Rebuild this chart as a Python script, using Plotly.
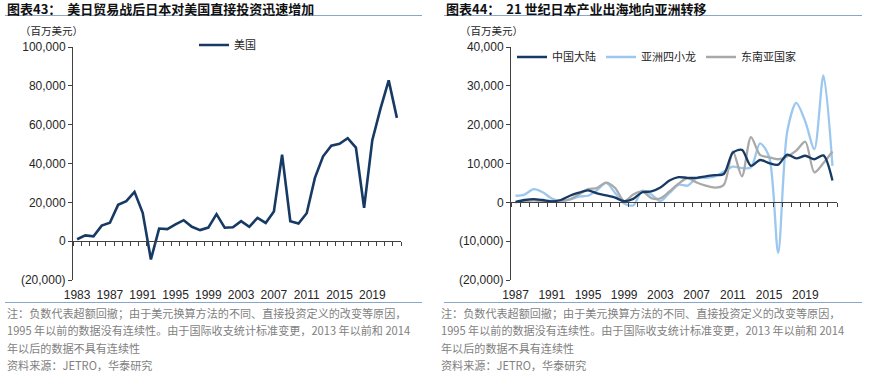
import plotly.graph_objects as go

W, H = 870, 377

# ---------------- data ----------------
years_us = list(range(1983, 2023))
us_fdi = [1000, 3000, 2500, 8000, 9500, 18700, 20600, 25400, 14600, -9400,
          6500, 6200, 8600, 10800, 7400, 5700, 7000, 13900, 6900, 7200,
          10300, 7400, 12000, 9400, 15300, 44600, 10300, 9100, 14400, 32600,
          43700, 49200, 50100, 53000, 48200, 17200, 52000, 68300, 82800, 63500]

years_asia = list(range(1987, 2023))
china = [100, 600, 850, 600, 250, 600, 1700, 2500, 3100, 2300,
         1800, 1200, 300, 900, 2600, 2800, 3800, 5600, 6500, 6300,
         6300, 6700, 7000, 7300, 12800, 13500, 9400, 10900, 10100, 9700,
         12300, 11300, 12000, 11100, 12100, 5600]
dragons = [1700, 2000, 3400, 2600, 1000, 400, 700, 1500, 1700, 3100,
           5000, 2400, -300, -800, 3000, 2000, 300, 2400, 4500, 4300,
           6200, 6300, 6700, 7900, 9200, 8800, 9000, 15200, 11800, -13000,
           18200, 25600, 20800, 13700, 32700, 9400]
asean = [0, 300, 500, 300, 400, 300, 800, 2000, 3400, 3700,
         5100, 3700, 300, 2000, 2800, 1100, 1000, 2800, 4800, 6200,
         5100, 4300, 3800, 4500, 13100, 6700, 16800, 12200, 11600, 11100,
         11800, 13300, 15600, 7700, 10100, 13100]

left_yticks = [-20000, 0, 20000, 40000, 60000, 80000, 100000]
right_yticks = [-20000, -10000, 0, 10000, 20000, 30000, 40000]
left_xticks = list(range(1983, 2020, 4))
right_xticks = list(range(1987, 2020, 4))

names = ["美国", "中国大陆", "亚洲四小龙", "东南亚国家"]
colors = ["#173a64", "#173a64", "#9cc8ef", "#a9a9a9"]

title_left = "<b>图表43：  美日贸易战后日本对美国直接投资迅速增加</b>"
title_right = "<b>图表44：  21 世纪日本产业出海地向亚洲转移</b>"
unit_label = "（百万美元）"
notes = ["注：负数代表超额回撤；由于美元换算方法的不同、直接投资定义的改变等原因，",
         "1995 年以前的数据没有连续性。由于国际收支统计标准变更，2013 年以前和 2014",
         "年以后的数据不具有连续性",
         "资料来源：JETRO，华泰研究"]


def fmt(v):
    s = f"{abs(v):,}"
    return f"({s})" if v < 0 else s


def px_x(p):
    return p / W


def px_y(p):
    return 1 - p / H


NUM_FONT = "Liberation Sans, Arial, sans-serif"
CJK_FONT = "Noto Sans CJK SC, sans-serif"
AX_COLOR = "#404040"
TXT_COLOR = "#262626"

fig = go.Figure()

# draw order: dragons, asean, china on top; legend order via legendrank
fig.add_trace(go.Scatter(x=years_us, y=us_fdi, name=names[0], mode="lines",
                         line=dict(color=colors[0], width=2.6),
                         xaxis="x", yaxis="y", legend="legend"))
for nm, vals, col, rk in [(names[2], dragons, colors[2], 2),
                          (names[3], asean, colors[3], 3),
                          (names[1], china, colors[1], 1)]:
    fig.add_trace(go.Scatter(x=years_asia, y=vals, name=nm, mode="lines", legendrank=rk,
                             line=dict(color=col, width=2.3, shape="spline", smoothing=0.8),
                             xaxis="x2", yaxis="y2", legend="legend2"))

ydom = [px_y(280), px_y(47)]
xdom_l = [px_x(73), px_x(401)]
xdom_r = [px_x(511), px_x(837)]

common_x = dict(showgrid=False, zeroline=False, showline=False, ticks="", automargin=False,
                ticklabelstandoff=6,
                tickfont=dict(family=NUM_FONT, size=12, color=TXT_COLOR))
common_y = dict(showgrid=False, zeroline=False, showline=True, linecolor=AX_COLOR,
                linewidth=1, ticks="outside", ticklen=4, tickcolor=AX_COLOR, automargin=False,
                tickfont=dict(family=NUM_FONT, size=12, color=TXT_COLOR))

fig.update_layout(
    width=W, height=H, margin=dict(l=0, r=0, t=0, b=0, autoexpand=False),
    paper_bgcolor="white", plot_bgcolor="white",
    xaxis=dict(domain=xdom_l, anchor="y", range=[1982.5, 2022.5],
               tickvals=left_xticks, ticktext=[str(v) for v in left_xticks], **common_x),
    yaxis=dict(domain=ydom, anchor="x", range=[-20000, 100000],
               tickvals=left_yticks, ticktext=[fmt(v) for v in left_yticks], **common_y),
    xaxis2=dict(domain=xdom_r, anchor="y2", range=[1986.5, 2022.5],
                tickvals=right_xticks, ticktext=[str(v) for v in right_xticks], **common_x),
    yaxis2=dict(domain=ydom, anchor="x2", range=[-20000, 40000],
                tickvals=right_yticks, ticktext=[fmt(v) for v in right_yticks], **common_y),
    # zero-line category axes with year tick marks
    xaxis3=dict(overlaying="x", matches="x", anchor="free", automargin=False,
                position=px_y(280) + (ydom[1] - ydom[0]) * (20000 / 120000),
                showgrid=False, zeroline=False, showline=True, linecolor=AX_COLOR,
                linewidth=1, ticks="outside", ticklen=4, tickcolor=AX_COLOR,
                tickvals=[y + 0.5 for y in range(1982, 2023)], showticklabels=False),
    xaxis4=dict(overlaying="x2", matches="x2", anchor="free", automargin=False,
                position=px_y(280) + (ydom[1] - ydom[0]) * (20000 / 60000),
                showgrid=False, zeroline=False, showline=True, linecolor=AX_COLOR,
                linewidth=1, ticks="outside", ticklen=4, tickcolor=AX_COLOR,
                tickvals=[y + 0.5 for y in range(1986, 2023)], showticklabels=False),
    legend=dict(x=px_x(194), y=px_y(45), xanchor="left", yanchor="middle",
                orientation="h", bgcolor="rgba(0,0,0,0)",
                font=dict(family=CJK_FONT, size=11, color=TXT_COLOR)),
    legend2=dict(x=px_x(512), y=px_y(57), xanchor="left", yanchor="middle",
                 orientation="h", bgcolor="rgba(0,0,0,0)", itemwidth=30,
                 font=dict(family=CJK_FONT, size=11, color=TXT_COLOR)),
    showlegend=True,
)

# invisible helper traces so overlay axes render
fig.add_trace(go.Scatter(x=[years_us[0]], y=[us_fdi[0]], xaxis="x3", yaxis="y",
                         mode="lines", showlegend=False, hoverinfo="skip", opacity=0))
fig.add_trace(go.Scatter(x=[years_asia[0]], y=[china[0]], xaxis="x4", yaxis="y2",
                         mode="lines", showlegend=False, hoverinfo="skip", opacity=0))

ann = []
ann.append(dict(text=title_left, x=px_x(5), y=px_y(8), xanchor="left", yanchor="middle",
                font=dict(family=CJK_FONT, size=13, color="#111111")))
ann.append(dict(text=title_right, x=px_x(444), y=px_y(8), xanchor="left", yanchor="middle",
                font=dict(family=CJK_FONT, size=13, color="#111111")))
for x0 in (18, 458):
    ann.append(dict(text=unit_label, x=px_x(x0), y=px_y(30), xanchor="left", yanchor="middle",
                    font=dict(family=CJK_FONT, size=10.5, color=TXT_COLOR)))
for x0 in (5, 439):
    for i, line in enumerate(notes):
        ann.append(dict(text=line, x=px_x(x0), y=px_y(313 + i * 17.3), xanchor="left",
                        yanchor="middle",
                        font=dict(family=CJK_FONT, size=11.1, color="#7f7f7f")))
for a in ann:
    a.update(xref="paper", yref="paper", showarrow=False)
fig.update_layout(annotations=ann)

shapes = []
for x0, x1 in ((5, 422), (444, 862)):
    for yy in (15.5, 302.5):
        shapes.append(dict(type="line", xref="paper", yref="paper",
                           x0=px_x(x0), x1=px_x(x1), y0=px_y(yy), y1=px_y(yy),
                           line=dict(color="#8aa6c8", width=1.2)))
fig.update_layout(shapes=shapes)

fig.write_html("out.html", config={"displayModeBar": False},
               post_script="document.body.style.margin='0px';document.body.style.overflow='hidden';")
